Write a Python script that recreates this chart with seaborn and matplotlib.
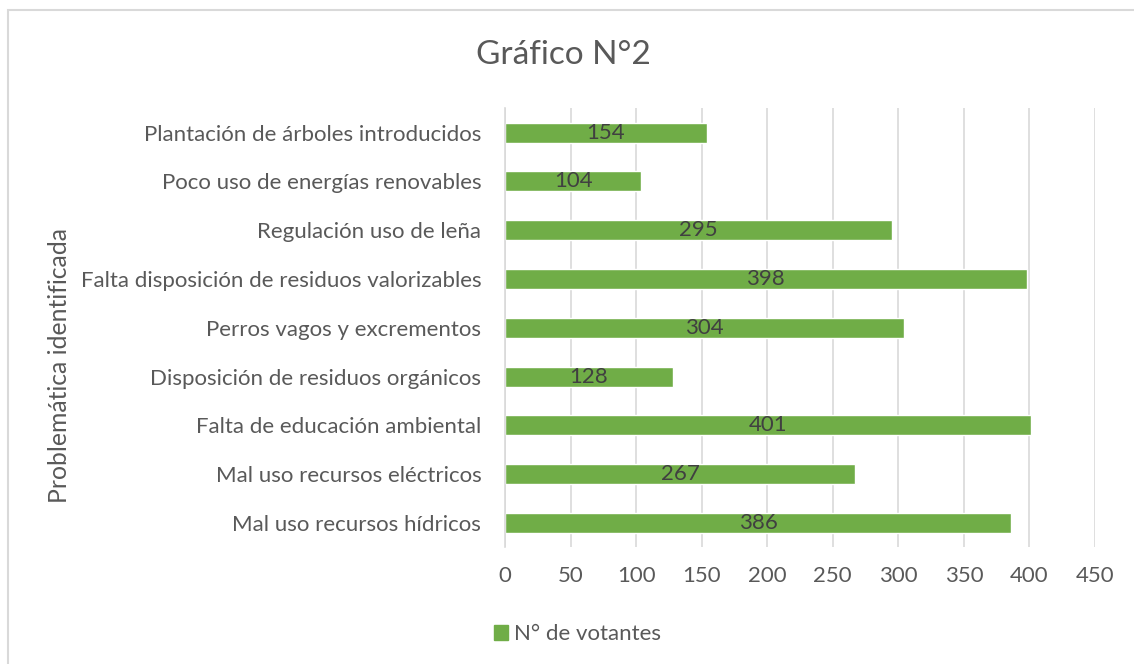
import matplotlib
matplotlib.use("Agg")
import matplotlib.pyplot as plt
import seaborn as sns
import pandas as pd
from matplotlib.patches import Rectangle, Patch

categories = [
    "Plantación de árboles introducidos",
    "Poco uso de energías renovables",
    "Regulación uso de leña",
    "Falta disposición de residuos valorizables",
    "Perros vagos y excrementos",
    "Disposición de residuos orgánicos",
    "Falta de educación ambiental",
    "Mal uso recursos eléctricos",
    "Mal uso recursos hídricos",
]
values = [154, 104, 295, 398, 304, 128, 401, 267, 386]
xticks = [0, 50, 100, 150, 200, 250, 300, 350, 400, 450]
series_name = "N° de votantes"

df = pd.DataFrame({"cat": categories, "val": values})

sns.set_theme(style="white")
plt.rcParams['font.family'] = ['Lato', 'DejaVu Sans']

GREEN = "#70ad47"
TXT = "#595959"
FS = 16

fig = plt.figure(figsize=(11.34, 6.64), dpi=100)
ax = fig.add_axes([0.4453, 0.1755, 0.5203, 0.6615])

sns.barplot(data=df, y="cat", x="val", orient="h", color=GREEN,
            width=0.41, saturation=1, ax=ax, order=categories)

ax.set_xlim(0, 450)
ax.set_xticks(xticks)
ax.set_xticklabels([str(t) for t in xticks], fontsize=FS, color=TXT)
ax.tick_params(axis='y', labelsize=FS, labelcolor=TXT, length=0, pad=17)
ax.tick_params(axis='x', length=0, pad=13)
ax.xaxis.grid(True, color="#d9d9d9", linewidth=1.2)
ax.set_axisbelow(True)
for s in ["top", "right", "bottom"]:
    ax.spines[s].set_visible(False)
ax.spines["left"].set_color("#d9d9d9")
ax.spines["left"].set_linewidth(1.2)

ax.set_xlabel("")
ax.set_ylabel("Problemática identificada", fontsize=17.8, color=TXT)
ax.yaxis.set_label_coords(-0.735, 0.415)

for c in ax.containers:
    ax.bar_label(c, labels=[str(v) for v in values], label_type="center",
                 fontsize=FS, color="#404040")

fig.text(0.497, 0.917, "Gráfico N°2", ha="center", va="center", fontsize=24, color=TXT)

leg = fig.legend(handles=[Patch(color=GREEN, label=series_name)],
                 loc="center", bbox_to_anchor=(0.509, 0.045), frameon=False,
                 fontsize=FS, handlelength=0.65, handleheight=0.65, handletextpad=0.25)
for t in leg.get_texts():
    t.set_color(TXT)

fig.patches.append(Rectangle((0.007, -0.01), 1.2, 0.995, transform=fig.transFigure,
                             fill=False, edgecolor="#d9d9d9", linewidth=1.5))

fig.savefig("out.png", dpi=100)
